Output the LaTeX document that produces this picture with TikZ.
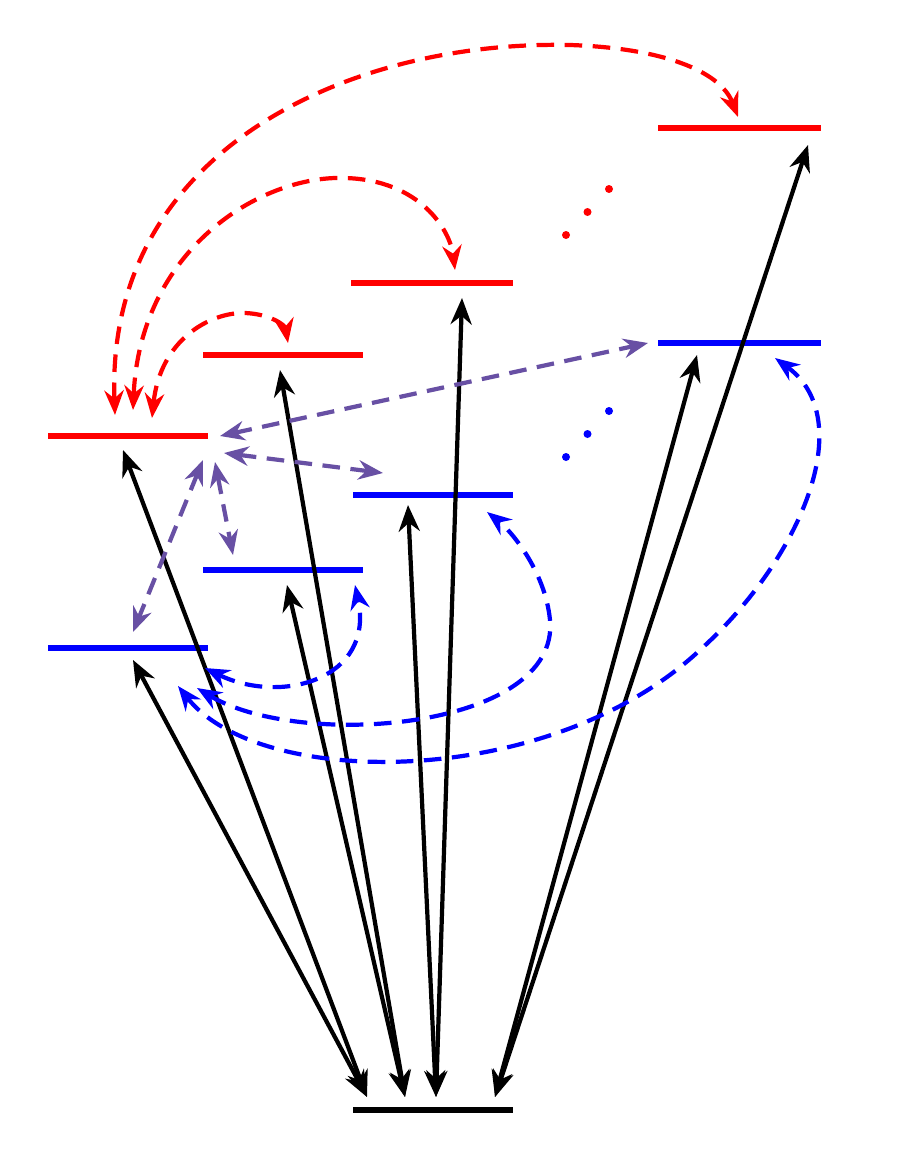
\documentclass[tikz,border=0pt]{standalone}
\usetikzlibrary{arrows.meta,calc}
\definecolor{pur}{RGB}{104,80,164}
\begin{document}
\begin{tikzpicture}[x=0.02cm,y=-0.02cm,
  lev/.style={line width=3.4pt},
  tr/.style={line width=2.4pt,{Stealth[length=15pt,width=12pt]}-{Stealth[length=15pt,width=12pt]}},
  dsh/.style={line width=2.4pt,dash pattern=on 10pt off 6pt,{Stealth[length=14pt,width=11pt]}-{Stealth[length=14pt,width=11pt]}}]
\useasboundingbox (0,0) rectangle (912,1159);
% levels
\draw[lev] (353,1110) coordinate (g1) -- (513,1110) coordinate (g2);
\draw[lev,red] (48,436) -- (208,436);
\draw[lev,red] (203,355) -- (363,355);
\draw[lev,red] (351,283) -- (513,283);
\draw[lev,red] (658,128) -- (821,128);
\draw[lev,blue] (48,648) -- (208,648);
\draw[lev,blue] (203,570) -- (363,570);
\draw[lev,blue] (353,495) -- (513,495);
\draw[lev,blue] (658,343) -- (821,343);
% dots
\foreach \t in {0,0.5,1} {\fill[red] ($(566,235)!\t!(609,189)$) circle (4);}
\foreach \t in {0,0.5,1} {\fill[blue] ($(566,457)!\t!(609,411)$) circle (4);}
% endpoints
\coordinate (ga) at (367,1097); \coordinate (gb) at (405,1097);
\coordinate (gc) at (436,1097); \coordinate (gd) at (495,1097);
\coordinate (r1) at (123,450); \coordinate (b1) at (133,660);
\coordinate (r2) at (280,370); \coordinate (b2) at (287,585);
\coordinate (b3) at (408,505); \coordinate (r3) at (462,298);
\coordinate (b4) at (697,355); \coordinate (r4) at (808,145);
\draw[tr] (ga) -- (r1); \draw[tr] (ga) -- (b1);
\draw[tr] (gb) -- (r2); \draw[tr] (gb) -- (b2);
\draw[tr] (gc) -- (b3); \draw[tr] (gc) -- (r3);
\draw[tr] (gd) -- (b4); \draw[tr] (gd) -- (r4);
% red curves
\coordinate (ra) at (115,415); \coordinate (rb) at (133,410); \coordinate (rc) at (152,418);
\coordinate (x4) at (738,117); \coordinate (x3) at (455,270); \coordinate (x2) at (288,343);
\draw[dsh,red] (ra) .. controls (105,150) and (350,40) .. (570,45) .. controls (660,48) and (720,70) .. (x4);
\draw[dsh,red] (rb) .. controls (140,250) and (260,175) .. (345,178) .. controls (420,180) and (450,230) .. (x3);
\draw[dsh,red] (rc) .. controls (160,340) and (210,312) .. (245,313) .. controls (270,314) and (285,325) .. (x2);
% purple
\coordinate (p1) at (220,436); \coordinate (p2) at (224,453); \coordinate (p3) at (215,462); \coordinate (p4) at (203,460);
\coordinate (q4) at (648,343); \coordinate (q3) at (383,473); \coordinate (q2) at (233,555); \coordinate (q1) at (133,632);
\draw[dsh,pur] (p1) -- (q4); \draw[dsh,pur] (p2) -- (q3);
\draw[dsh,pur] (p3) -- (q2); \draw[dsh,pur] (p4) -- (q1);
% blue curves
\coordinate (ba) at (205,668); \coordinate (bb) at (197,688); \coordinate (bc) at (178,686);
\coordinate (y2) at (355,585); \coordinate (y3) at (487,512); \coordinate (y4) at (775,358);
\draw[dsh,blue] (ba) .. controls (280,705) and (375,680) .. (y2);
\draw[dsh,blue] (bb) .. controls (300,750) and (560,730) .. (550,620) .. controls (545,570) and (510,530) .. (y3);
\draw[dsh,blue] (bc) .. controls (260,790) and (550,790) .. (700,650) .. controls (800,560) and (860,420) .. (y4);
\end{tikzpicture}
\end{document}
